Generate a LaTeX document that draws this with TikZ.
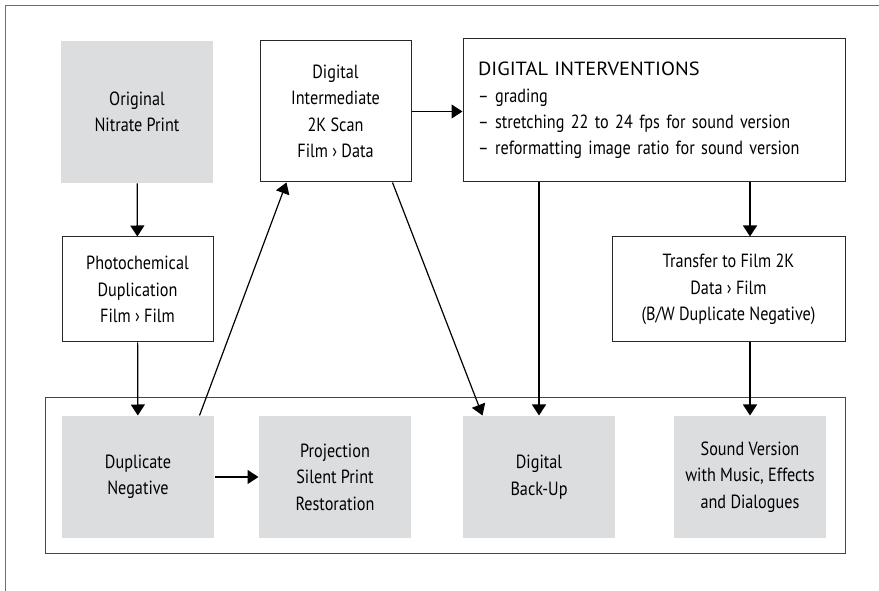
\documentclass[tikz,border=0pt]{standalone}
\usepackage{fontspec}
\setmainfont{PT Sans}[FakeStretch=0.85]
\newfontfamily\titlefont{PT Sans}[FakeStretch=1.07]
\usetikzlibrary{arrows.meta,calc}

\definecolor{boxgray}{RGB}{220,221,223}
\definecolor{framegray}{RGB}{110,110,110}

\tikzset{every picture/.style={line width=0.75pt}}
\tikzset{
  graybox/.style={fill=boxgray, draw=none, align=center, inner sep=0.75pt, font=\fontsize{14.3}{19.8}\selectfont},
  whitebox/.style={fill=white, draw={rgb,255:red,40;green,40;blue,40}, line width=0.75pt, align=center, inner sep=0.75pt, font=\fontsize{14.3}{19.8}\selectfont},
  arr/.style={draw=black, line width=0.9pt, -{Triangle[width=10.5pt,length=8.25pt]}},
}

\begin{document}
\begin{tikzpicture}[x=0.75pt,y=0.75pt,yscale=-1,xscale=1]
\useasboundingbox (0,0) rectangle (879,591);

%Frame lines
\draw [color=framegray, line width=1.1pt] (5.5,591) -- (5.5,5.5) -- (879,5.5) ;

%Shape: Rectangle (container)
\node (group) at (445,476) [draw={rgb,255:red,70;green,70;blue,70}, line width=0.75pt, minimum width=600pt, minimum height=117pt, inner sep=0pt] {};

% Text Node
\node (orig) at (137,112) [graybox, minimum width=114pt, minimum height=106.5pt] {Original\\Nitrate Print};
% Text Node
\node (digint) at (335.5,111.5) [whitebox, minimum width=113.25pt, minimum height=105.75pt] {Digital\\Intermediate\\2K Scan\\Film › Data};
% Text Node
\node (inter) at (654,110.5) [whitebox, minimum width=286.5pt, minimum height=107.25pt, align=left, text width=264pt, inner xsep=11.25pt] {{\titlefont DIGITAL INTERVENTIONS}\\– grading\\– stretching 22 to 24 fps for sound version\\– reformatting image ratio for sound version};
% Text Node
\node (photo) at (137.5,289.5) [whitebox, minimum width=113.25pt, minimum height=78.75pt] {Photochemical\\Duplication\\Film › Film};
% Text Node
\node (trans) at (728.5,289.5) [whitebox, minimum width=174.75pt, minimum height=78.75pt] {Transfer to Film 2K\\Data › Film\\(B/W Duplicate Negative)};
% Text Node
\node (dup) at (138,477) [graybox, minimum width=114pt, minimum height=91.5pt] {Duplicate\\Negative};
% Text Node
\node (proj) at (335,477) [graybox, minimum width=114pt, minimum height=91.5pt] {Projection\\Silent Print\\Restoration};
% Text Node
\node (back) at (539,477) [graybox, minimum width=114pt, minimum height=91.5pt] {Digital\\Back-Up};
% Text Node
\node (sound) at (750,477) [graybox, minimum width=114pt, minimum height=91.5pt] {Sound Version\\with Music, Effects\\and Dialogues};

%Straight Lines
\draw [arr] (orig) -- (photo) ;
\draw [arr] (photo) -- (dup) ;
\draw [arr] (dup) -- (proj) ;
\draw [arr] (digint.east) -- (inter.west |- digint.east) ;
\draw [arr] ($(dup.north east)+(-15,0)$) -- ($(digint.south west)+(27,0)$) ;
\draw [arr] ($(digint.south east)+(-19,0)$) -- ($(back.north west)+(20,0)$) ;
\draw [arr] (inter.south -| back) -- (back) ;
\draw [arr] (inter.south -| sound) -- (trans.north -| sound) ;
\draw [arr] (trans.south -| sound) -- (sound) ;

\end{tikzpicture}
\end{document}
